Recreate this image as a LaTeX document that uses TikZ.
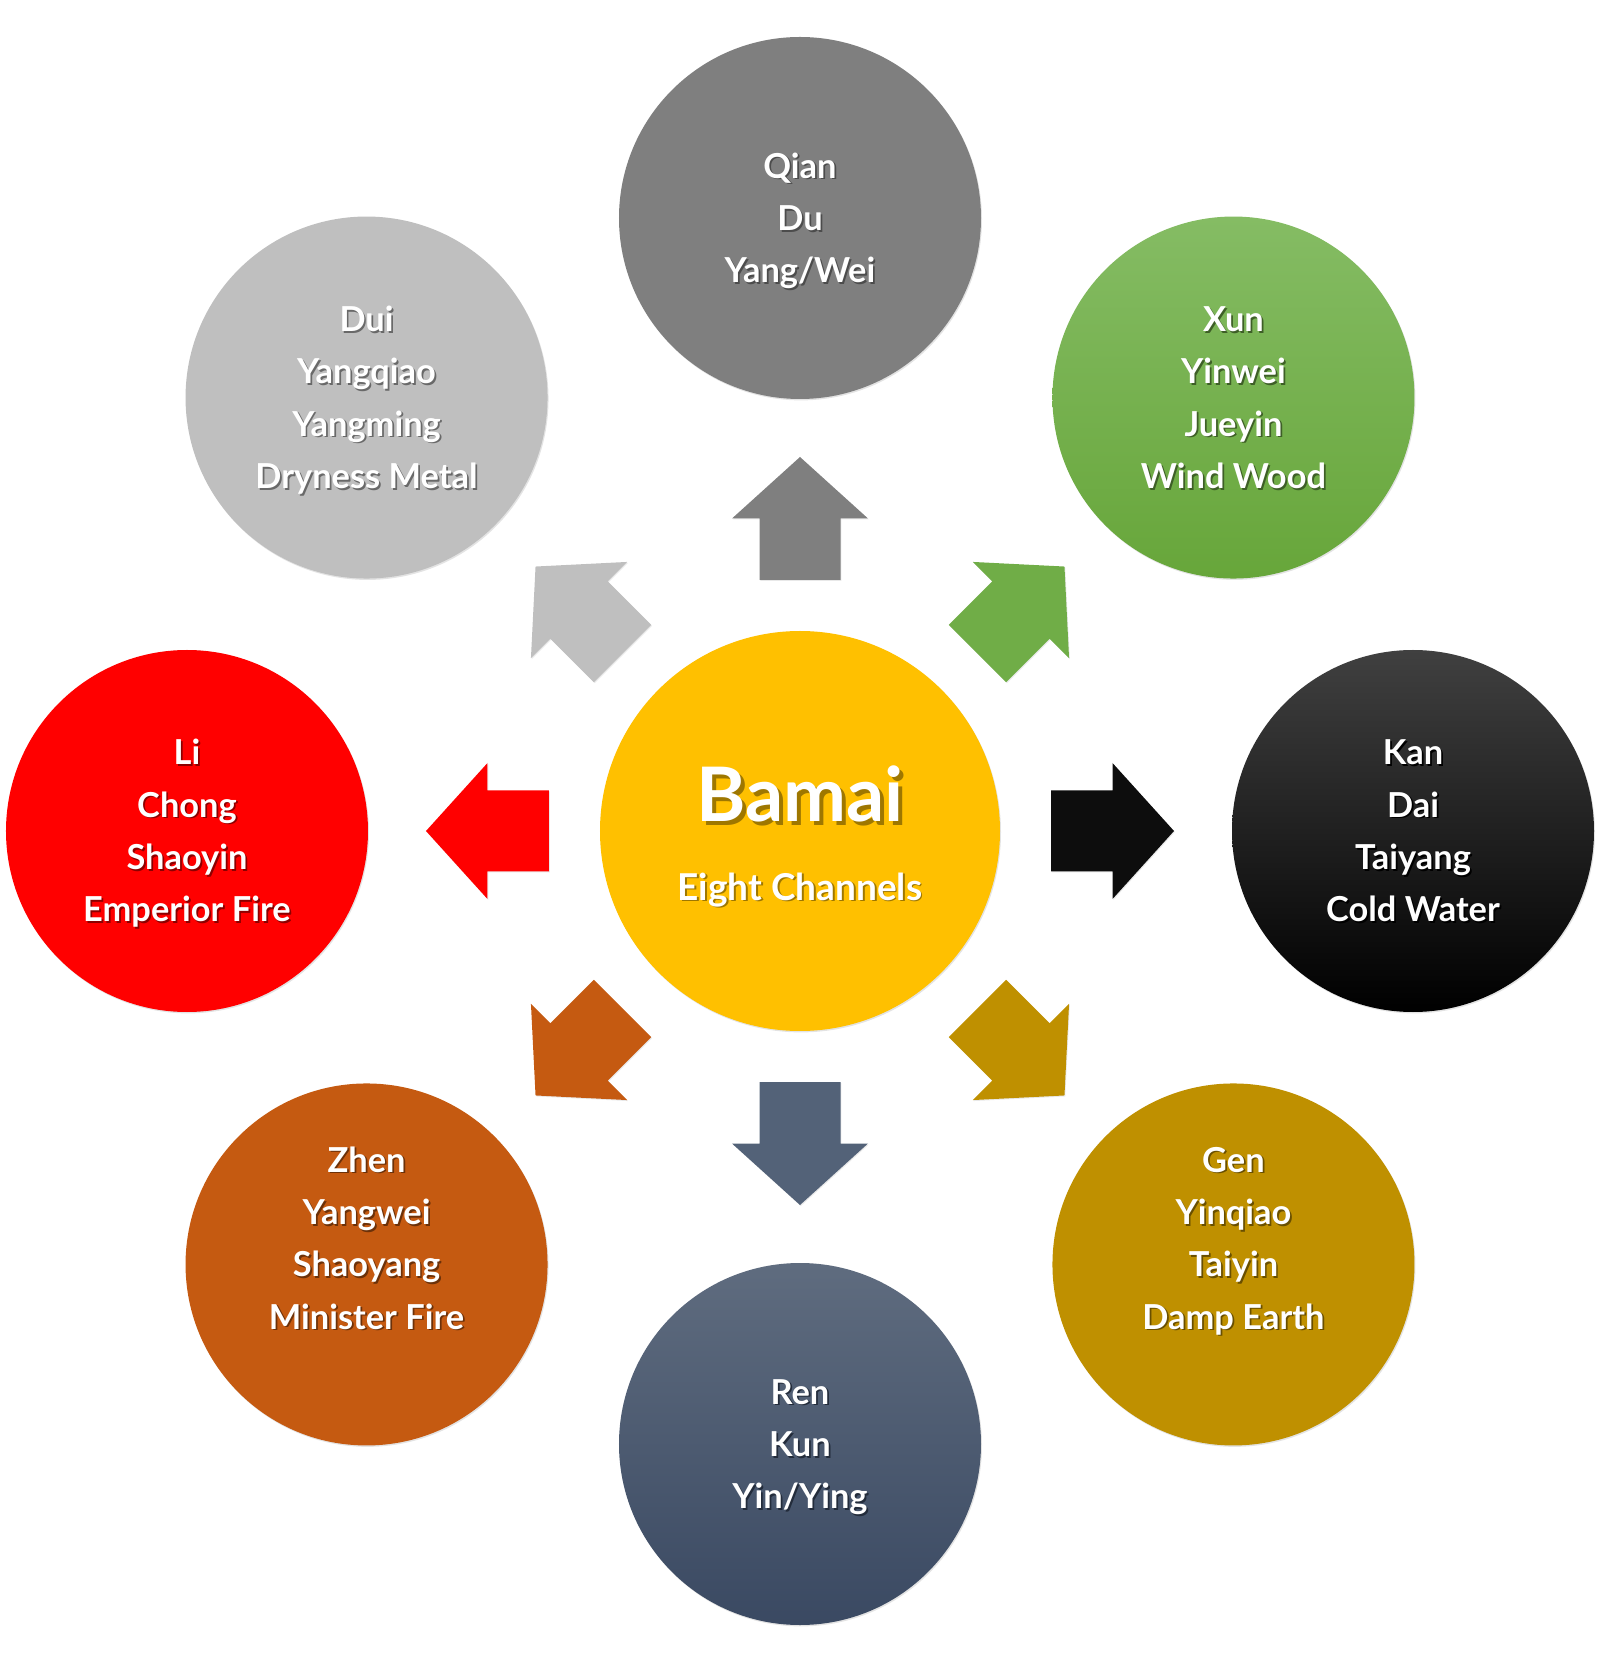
\documentclass[tikz,border=0pt]{standalone}
\usepackage{fontspec}
\setmainfont{Lato}
\usetikzlibrary{shadows}
\definecolor{cyel}{HTML}{FFC000}
\definecolor{cqian}{HTML}{7F7F7F}
\definecolor{cdui}{HTML}{BFBFBF}
\definecolor{cxunT}{HTML}{85BC64}
\definecolor{cxunB}{HTML}{67A63A}
\definecolor{cxun}{HTML}{70AD47}
\definecolor{ckanT}{HTML}{404040}
\definecolor{ckanA}{HTML}{0D0D0D}
\definecolor{cli}{HTML}{FF0000}
\definecolor{czhen}{HTML}{C55A11}
\definecolor{cgen}{HTML}{BF9000}
\definecolor{crenT}{HTML}{5F6C7F}
\definecolor{crenM}{HTML}{44546A}
\definecolor{crenB}{HTML}{3A4962}
\definecolor{crenA}{HTML}{536278}
\colorlet{shcol}{black}
\newcommand\capline{\rule[-0.3em]{0pt}{1.3165em}}
\newcommand\sh[1]{\capline\rlap{\kern0.05em\raisebox{-0.05em}{\color{shcol}#1}}#1}
\tikzset{
  outer/.style={circle, minimum size=181pt, inner sep=0pt, outer sep=0pt,
    text=white, align=center,
    font=\fontsize{17.2}{26.15}\selectfont\bfseries,
    drop shadow={shadow xshift=0.5pt, shadow yshift=-0.7pt, opacity=0.22}},
  shc/.style={execute at begin node={\colorlet{shcol}{#1}}},
  ctext/.style={anchor=base, text=white, inner sep=0pt, shc=cyel!62!black}
}
\begin{document}
\begin{tikzpicture}[x=0.5pt,y=0.5pt]
\useasboundingbox (-800,-833) rectangle (800,831);
% arrows
\foreach \a/\c in {90/cqian,45/cxun,0/ckanA,-45/cgen,-90/crenA,-135/czhen,180/cli,135/cdui}{
  \fill[\c, rotate=\a-90, drop shadow={shadow xshift=0.4pt, shadow yshift=-0.5pt, opacity=0.18}]
    (-40.5,251) -- (40.5,251) -- (40.5,312.5) -- (68,312.5) -- (0,374)
    -- (-68,312.5) -- (-40.5,312.5) -- cycle;
}
% centre
\node[circle, minimum size=200pt, inner sep=0pt, fill=cyel,
  drop shadow={shadow xshift=0.5pt, shadow yshift=-0.7pt, opacity=0.22}] (bamai) at (0,0) {};
\node[ctext, font=\fontsize{37.6}{46}\selectfont\bfseries] (bamaiT) at (0,9) {\sh{Bamai}};
\node[ctext, font=\fontsize{18.5}{22}\selectfont\bfseries] (bamaiS) at (0,-69) {\sh{Eight Channels}};
% outer circles
\node[outer, fill=cqian, shc=cqian!60!black] (qian) at (90:613)
  {\sh{Qian}\\\sh{Du}\\\sh{Yang/Wei}};
\node[outer, top color=cxunT, bottom color=cxunB, shc=cxun!55!black] (xun) at (45:613)
  {\sh{Xun}\\\sh{Yinwei}\\\sh{Jueyin}\\\sh{Wind Wood}};
\node[outer, top color=ckanT, middle color=black, bottom color=black, shc=black] (kan) at (0:613)
  {\sh{Kan}\\\sh{Dai}\\\sh{Taiyang}\\\sh{Cold Water}};
\node[outer, fill=cgen, shc=cgen!55!black] (gen) at (-45:613)
  {\sh{Gen}\\\sh{Yinqiao}\\\sh{Taiyin}\\\sh{Damp Earth}\\\capline};
\node[outer, top color=crenT, middle color=crenM, bottom color=crenB, shc=crenB!60!black] (ren) at (-90:613)
  {\sh{Ren}\\\sh{Kun}\\\sh{Yin/Ying}};
\node[outer, fill=czhen, shc=czhen!55!black] (zhen) at (-135:613)
  {\sh{Zhen}\\\sh{Yangwei}\\\sh{Shaoyang}\\\sh{Minister Fire}\\\capline};
\node[outer, fill=cli, shc=cli!55!black] (li) at (180:613)
  {\sh{Li}\\\sh{Chong}\\\sh{Shaoyin}\\\sh{Emperior Fire}};
\node[outer, fill=cdui, shc=cdui!55!black] (dui) at (135:613)
  {\sh{Dui}\\\sh{Yangqiao}\\\sh{Yangming}\\\sh{Dryness Metal}};
\end{tikzpicture}
\end{document}
